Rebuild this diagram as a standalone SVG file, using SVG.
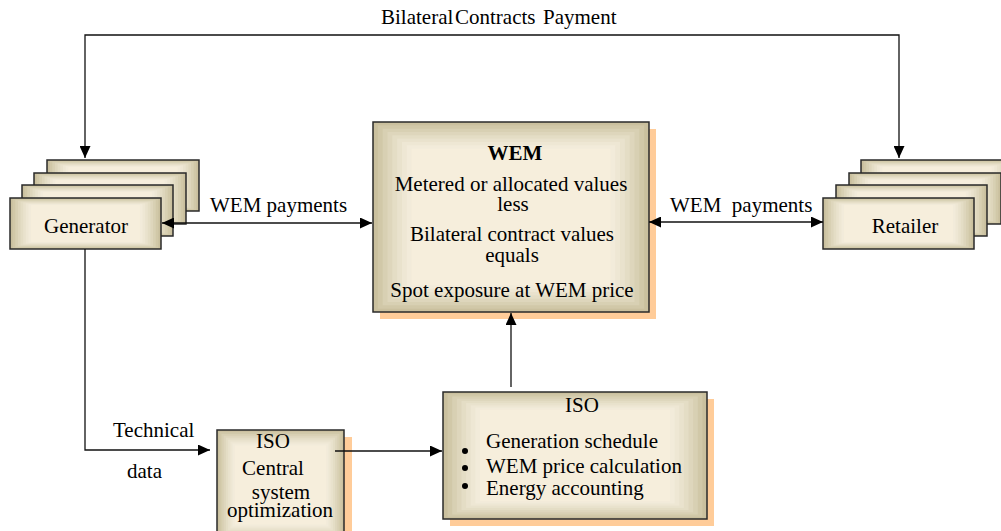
<svg xmlns="http://www.w3.org/2000/svg" width="1001" height="531" viewBox="0 0 1001 531">
  <defs>
    <style>
      .t{font-family:"Liberation Serif","Times New Roman",Tinos,"DejaVu Serif",serif;font-size:21px;fill:#000}
      .c{text-anchor:middle}
      .b{font-weight:bold}
      .edge{fill:none;stroke:#111;stroke-width:1.3}
      .two{marker-start:url(#headStart);marker-end:url(#head)}
      .one{marker-end:url(#head)}
      .frame{fill:none;stroke:#2a2a2a;stroke-width:1.5}
      .shadow{fill:#FFCC99}
    </style>
    <!-- stepped rectangular fill, stretched to each box -->
    <symbol id="card" viewBox="0 0 100 100" preserveAspectRatio="none">
      <rect x="0" y="0" width="100" height="100" fill="#CAC09E"/>
      <rect x="1.75" y="1.75" width="96.5" height="96.5" fill="#D1C8A8"/>
      <rect x="3.5" y="3.5" width="93" height="93" fill="#D8D0B3"/>
      <rect x="5.25" y="5.25" width="89.5" height="89.5" fill="#DED6BC"/>
      <rect x="7" y="7" width="86" height="86" fill="#E4DDC5"/>
      <rect x="8.75" y="8.75" width="82.5" height="82.5" fill="#E9E2CD"/>
      <rect x="10.5" y="10.5" width="79" height="79" fill="#EEE7D4"/>
      <rect x="12.25" y="12.25" width="75.5" height="75.5" fill="#F2EBDA"/>
      <rect x="14" y="14" width="72" height="72" fill="#F6EEDC"/>
    </symbol>
    <marker id="head" markerWidth="12" markerHeight="11" refX="12" refY="5.5" orient="auto" markerUnits="userSpaceOnUse">
      <path d="M0,0L12,5.5L0,11z" fill="#000"/>
    </marker>
    <marker id="headStart" markerWidth="12" markerHeight="11" refX="12" refY="5.5" orient="auto-start-reverse" markerUnits="userSpaceOnUse">
      <path d="M0,0L12,5.5L0,11z" fill="#000"/>
    </marker>
  </defs>

  <rect width="1001" height="531" fill="#fff"/>

  <!-- Generator stack -->
  <g id="generator">
    <use href="#card" x="47" y="160" width="152" height="51"/>
    <rect class="frame" x="47" y="160" width="152" height="51"/>
    <use href="#card" x="34" y="173" width="152" height="51"/>
    <rect class="frame" x="34" y="173" width="152" height="51"/>
    <use href="#card" x="22" y="185" width="151" height="51"/>
    <rect class="frame" x="22" y="185" width="151" height="51"/>
    <use href="#card" x="10" y="198" width="151" height="51"/>
    <rect class="frame" x="10" y="198" width="151" height="51"/>
    <text class="t c" x="86" y="233">Generator</text>
  </g>

  <!-- Retailer stack -->
  <g id="retailer">
    <use href="#card" x="861" y="160" width="152" height="51"/>
    <rect class="frame" x="861" y="160" width="152" height="51"/>
    <use href="#card" x="849" y="173" width="152" height="51"/>
    <rect class="frame" x="849" y="173" width="152" height="51"/>
    <use href="#card" x="836" y="185" width="151" height="51"/>
    <rect class="frame" x="836" y="185" width="151" height="51"/>
    <use href="#card" x="823" y="198" width="151" height="51"/>
    <rect class="frame" x="823" y="198" width="151" height="51"/>
    <text class="t c" x="905" y="233">Retailer</text>
  </g>

  <!-- WEM settlement box -->
  <g id="wem">
    <rect class="shadow" x="380" y="129" width="276" height="190"/>
    <use href="#card" x="373" y="122" width="276" height="190"/>
    <rect class="frame" x="373" y="122" width="276" height="190"/>
    <text class="t c b" x="515" y="160">WEM</text>
    <text class="t c" x="511" y="191">Metered or allocated values</text>
    <text class="t c" x="513" y="211">less</text>
    <text class="t c" x="512" y="241">Bilateral contract values</text>
    <text class="t c" x="512" y="262">equals</text>
    <text class="t c" x="512" y="297">Spot exposure at WEM price</text>
  </g>

  <!-- ISO scheduling box -->
  <g id="iso-schedule">
    <rect class="shadow" x="450" y="399" width="264" height="127"/>
    <use href="#card" x="443" y="392" width="264" height="127"/>
    <rect class="frame" x="443" y="392" width="264" height="127"/>
    <text class="t c" x="582" y="412">ISO</text>
    <circle cx="465" cy="451" r="3"/>
    <circle cx="465" cy="468" r="3"/>
    <circle cx="465" cy="486" r="3"/>
    <text class="t" x="486" y="448">Generation schedule</text>
    <text class="t" x="486" y="473">WEM price calculation</text>
    <text class="t" x="486" y="495">Energy accounting</text>
  </g>

  <!-- ISO central optimization box -->
  <g id="iso-central">
    <rect class="shadow" x="224" y="437" width="128" height="110"/>
    <use href="#card" x="217" y="430" width="127" height="110"/>
    <rect class="frame" x="217" y="430" width="127" height="110"/>
    <text class="t c" x="273" y="448">ISO</text>
    <text class="t c" x="273" y="475">Central</text>
    <text class="t c" x="281" y="499">system</text>
    <text class="t c" x="280" y="517">optimization</text>
  </g>

  <!-- Connectors -->
  <g id="connectors">
    <path class="edge two" d="M85,158V35H899V158"/>
    <path class="edge two" d="M162,223H372"/>
    <path class="edge two" d="M649,222H823"/>
    <path class="edge one" d="M85,249V450H210"/>
    <path class="edge one" d="M335,451H442"/>
    <path class="edge one" d="M511,387V313"/>
    <text class="t" x="381" y="24">Bilateral</text>
    <text class="t" x="455" y="24">Contracts</text>
    <text class="t" x="543" y="24">Payment</text>
    <text class="t" x="210" y="212">WEM payments</text>
    <text class="t" x="670" y="212" xml:space="preserve">WEM  payments</text>
    <text class="t" x="113" y="437">Technical</text>
    <text class="t" x="127" y="478">data</text>
  </g>
</svg>
